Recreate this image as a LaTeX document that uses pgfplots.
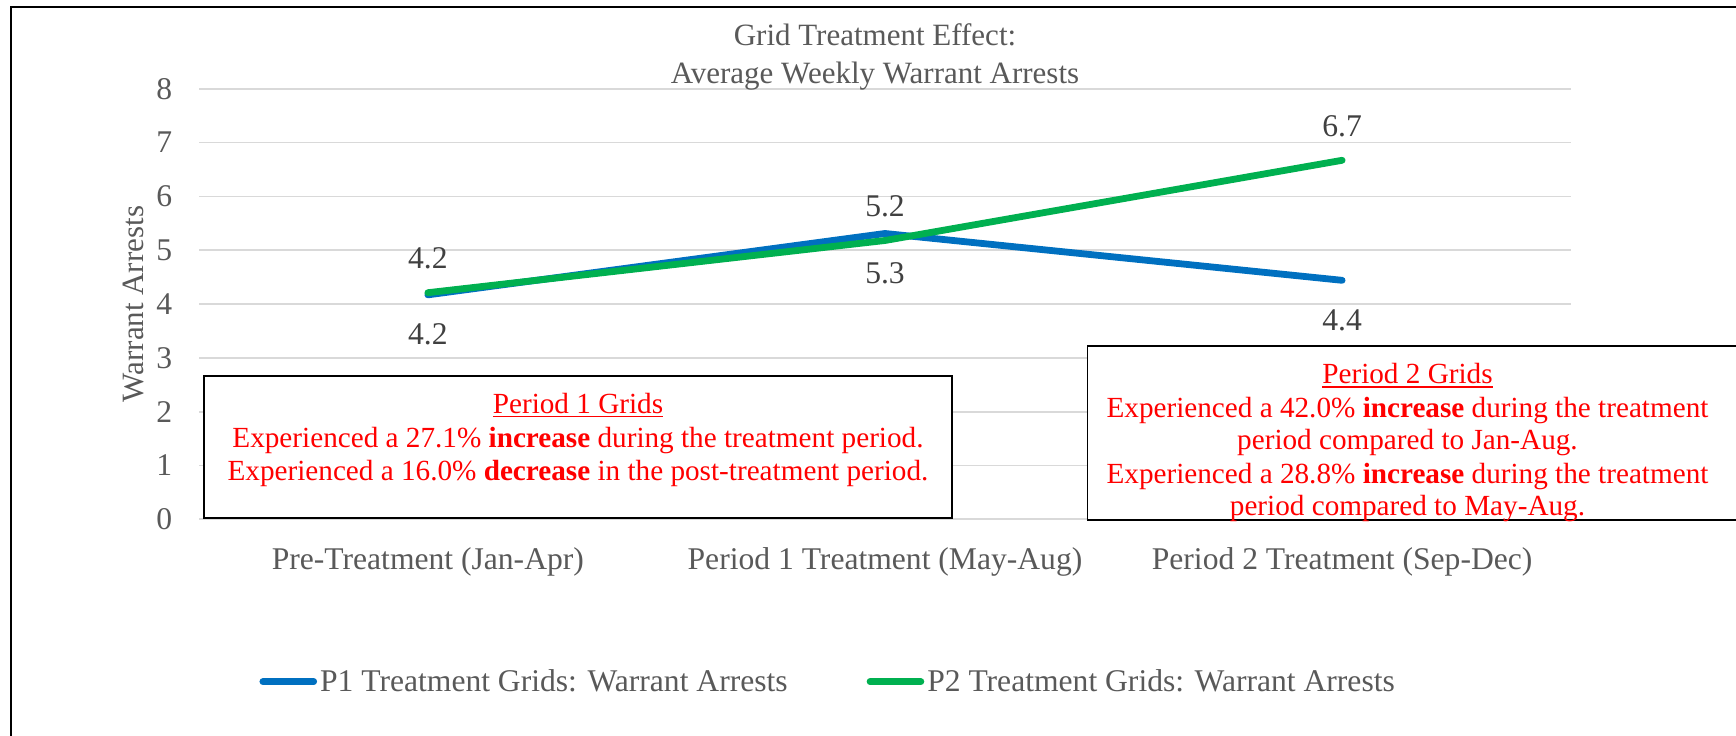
\documentclass[border=0pt]{standalone}
\usepackage{pgfplots}
\pgfplotsset{compat=1.18}
\usepackage{fontspec}
\setmainfont{Liberation Serif}
\definecolor{txtgray}{HTML}{595959}
\definecolor{lblgray}{HTML}{404040}
\definecolor{gridgray}{HTML}{D9D9D9}
\definecolor{serblue}{HTML}{0070C0}
\definecolor{sergreen}{HTML}{00B050}
\definecolor{boxred}{HTML}{FF0000}
\newcommand{\ulx}[1]{\setbox0=\hbox{#1}\rlap{\rule[-2.2pt]{\wd0}{0.7pt}}\box0}
\newcommand{\boxfont}{\fontsize{14.6}{16.6}\selectfont}
\newcommand{\lblfont}{\fontsize{15.8}{19}\selectfont}
\begin{document}
\begin{tikzpicture}
\useasboundingbox (-99.65pt,-107.85pt) rectangle (768.35pt,259.65pt);
\draw[line width=1pt] (-94.2pt,-130pt) -- (-94.2pt,256.3pt) -- (800pt,256.3pt);
\begin{axis}[
  scale only axis, width=685.7pt, height=215.3pt,
  xmin=-0.5, xmax=2.5, ymin=0, ymax=8,
  clip=false,
  xtick={0,1,2},
  xticklabels={Pre-Treatment (Jan-Apr), Period 1 Treatment (May-Aug), Period 2 Treatment (Sep-Dec)},
  ytick={0,1,...,8},
  ymajorgrids, grid style={draw=gridgray, line width=0.85pt},
  axis line style={draw=none},
  major tick length=0pt,
  tick style={draw=none},
  /pgf/number format/assume math mode=true,
  ticklabel style={font=\lblfont, text=txtgray},
  yticklabel style={anchor=east, inner sep=0pt, xshift=-13.3pt},
  xticklabel style={anchor=base, inner sep=0pt, yshift=-24.85pt},
  title={Grid Treatment Effect:\\Average Weekly Warrant Arrests},
  title style={at={(axis description cs:0.4927,0.9849)}, anchor=base, align=center, font=\fontsize{15.5}{18.75}\selectfont, text=txtgray, inner sep=0pt},
  ylabel={Warrant Arrests},
  ylabel style={at={(axis description cs:-0.04834,0.5)}, anchor=center, font=\fontsize{15.5}{18.75}\selectfont, text=txtgray, inner sep=0pt},
  legend columns=2,
  legend style={at={(axis description cs:0.0436,-0.3771)}, anchor=west, draw=none, fill=none, inner sep=0pt, font=\lblfont, nodes={inner sep=0pt, text=txtgray}, /tikz/every odd column/.append style={column sep=1.5pt}, /tikz/every even column/.append style={column sep=39.5pt}},
  legend image code/.code={\draw[#1, line width=3.4pt, line cap=round] (0pt,0pt) -- (25.4pt,0pt);},
]
\addplot[serblue, line width=3.4pt, line cap=round, line join=round, point meta=y,
  nodes near coords={\pgfmathprintnumber[fixed,fixed zerofill,precision=1]{\pgfplotspointmeta}},
  every node near coord/.append style={anchor=base, yshift=-25pt, inner sep=0pt, font=\lblfont, text=lblgray}]
  coordinates {(0,4.17) (1,5.31) (2,4.44)};
\addlegendentry{P1 Treatment Grids: Warrant Arrests}
\addplot[sergreen, line width=3.4pt, line cap=round, line join=round, point meta=y,
  nodes near coords={\pgfmathprintnumber[fixed,fixed zerofill,precision=1]{\pgfplotspointmeta}},
  every node near coord/.append style={anchor=base, yshift=12pt, inner sep=0pt, font=\lblfont, text=lblgray}]
  coordinates {(0,4.21) (1,5.18) (2,6.67)};
\addlegendentry{P2 Treatment Grids: Warrant Arrests}
\end{axis}
% annotation box 1
\draw[line width=0.85pt, fill=white] (2.5pt,0.5pt) rectangle (376.35pt,71.65pt);
\begin{scope}[every node/.style={anchor=base, text=boxred, font=\boxfont, inner sep=0pt}]
\node at (189.35pt,53.15pt) {\ulx{Period 1 Grids}};
\node at (189.35pt,36.15pt) {Experienced a 27.1\% \textbf{increase} during the treatment period.};
\node at (189.35pt,19.65pt) {Experienced a 16.0\% \textbf{decrease} in the post-treatment period.};
\end{scope}
% annotation box 2
\draw[line width=0.85pt, fill=white] (444.1pt,-0.35pt) rectangle (800pt,86.65pt);
\begin{scope}[every node/.style={anchor=base, text=boxred, font=\boxfont, inner sep=0pt}]
\node at (604.1pt,68pt) {\ulx{Period 2 Grids}};
\node at (604.1pt,51pt) {Experienced a 42.0\% \textbf{increase} during the treatment};
\node at (604.1pt,35pt) {period compared to Jan-Aug.};
\node at (604.1pt,18pt) {Experienced a 28.8\% \textbf{increase} during the treatment};
\node at (604.1pt,2.15pt) {period compared to May-Aug.};
\end{scope}
\end{tikzpicture}
\end{document}
